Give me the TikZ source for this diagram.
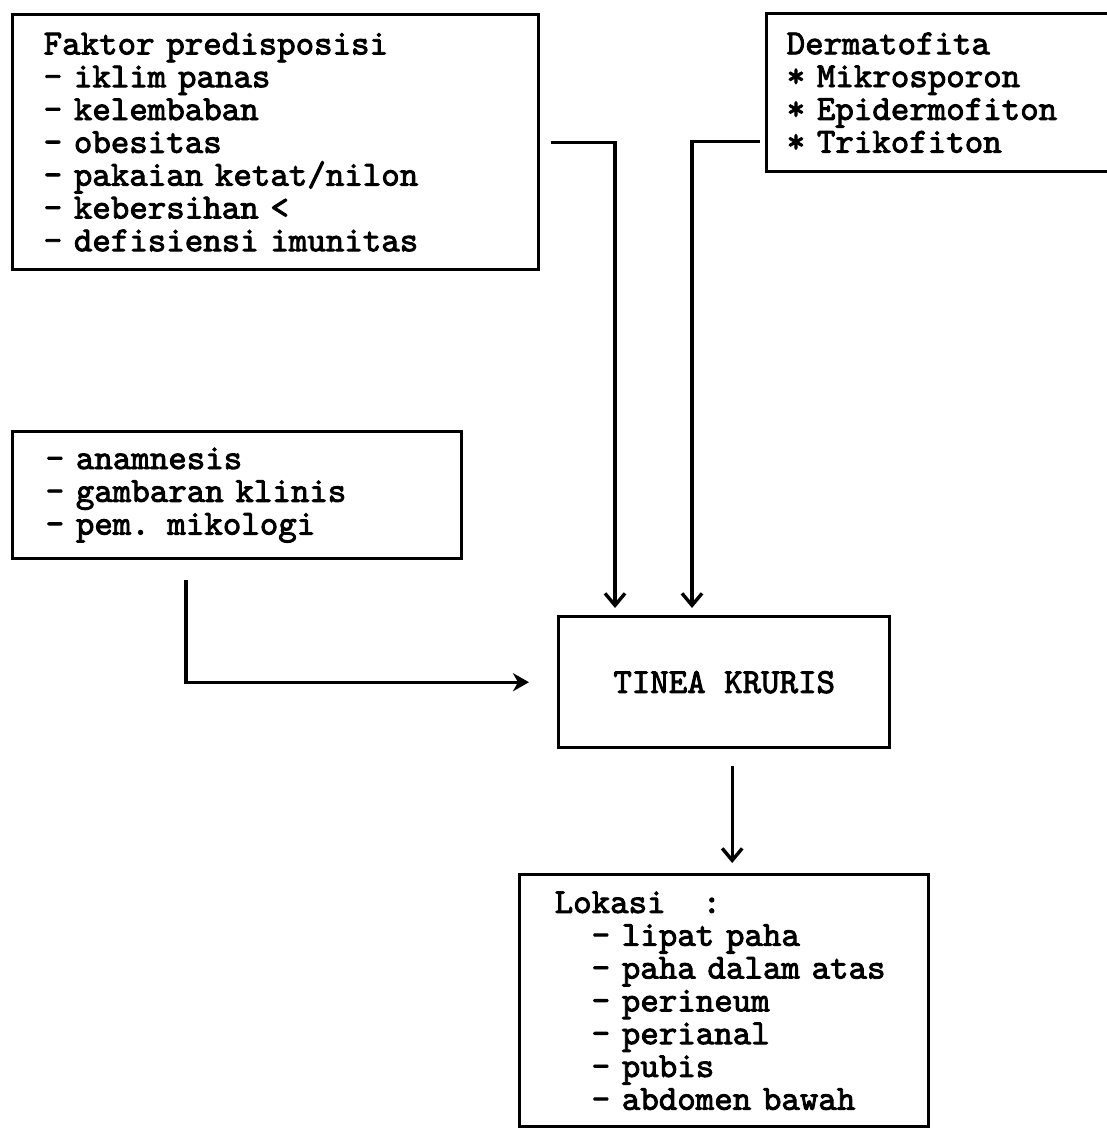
\documentclass[tikz,border=0pt]{standalone}
\usepackage{fontspec}
\usetikzlibrary{arrows.meta,positioning}
\newfontfamily\printfont{lmmono10-regular.otf}[FakeBold=2.5]
\newcommand{\boxfont}{\printfont\fontsize{17.6}{16.4}\selectfont
  \spaceskip=\fontcharwd\font`x\relax\xspaceskip=\spaceskip}
\newcommand{\lokindent}{\hphantom{xx}}
\tikzset{
box/.style = {rectangle, draw=black, line width=1.7pt, anchor=north west, align=left,
inner ysep=0pt, font=\boxfont},% kotak teks
flow/.style = {draw=black, line width=1.7pt, -{Straight Barb[length=6pt,width=10pt]}},% panah tipis
flowin/.style = {draw=black, line width=1.7pt, -{Stealth[length=8pt,width=9pt,inset=2.5pt]}}% panah masuk
}
\begin{document}
\begin{tikzpicture}[x=0.5pt, y=-0.5pt]
  \useasboundingbox [fill=white] (0,0) rectangle (1107,1129);
  % kotak-kotak
  \node [box, inner xsep=15.5pt, text width=232pt, minimum height=127.5pt] (faktor) at (11,13)
    {Faktor predisposisi\\- iklim panas\\- kelembaban\\- obesitas\\- pakaian ketat/nilon\\- kebersihan <\\- defisiensi imunitas};
  \node [box, inner xsep=10pt, text width=153.5pt, minimum height=79pt] (dermato) at (765,12)
    {Dermatofita\\{*} Mikrosporon\\{*} Epidermofiton\\{*} Trikofiton};
  \node [box, inner xsep=16.5pt, text width=191.5pt, minimum height=63.5pt] (diagnosa) at (11,430)
    {- anamnesis\\- gambaran klinis\\- pem. mikologi};
  \node [box, align=center, inner sep=0pt, minimum width=165.5pt, minimum height=65.5pt] (tinea) at (557,615)
    {TINEA KRURIS};
  \node [box, inner xsep=17.5pt, text width=169.5pt, minimum height=126pt] (lokasi) at (518,873)
    {Lokasi\hphantom{xx}:\\\lokindent- lipat paha\\\mbox{\lokindent- paha dalam atas}\\\lokindent- perineum\\\lokindent- perianal\\\lokindent- pubis\\\lokindent- abdomen bawah};
  % panah
  \draw [flow, shorten <=5.5pt, shorten >=3.5pt] (faktor.east) -| ([xshift=29pt]tinea.north west);
  \draw [flow, shorten <=2.5pt, shorten >=3.5pt] ([yshift=16pt]dermato.south west) -| ([xshift=67.5pt]tinea.north west);
  \draw [flowin, shorten <=10pt, shorten >=14pt] ([xshift=87.5pt]diagnosa.south west) |- (tinea.west);
  \draw [flow, shorten <=8.5pt, shorten >=5pt] ([xshift=4pt]tinea.south) -- ([xshift=4pt]lokasi.north);
\end{tikzpicture}
\end{document}
